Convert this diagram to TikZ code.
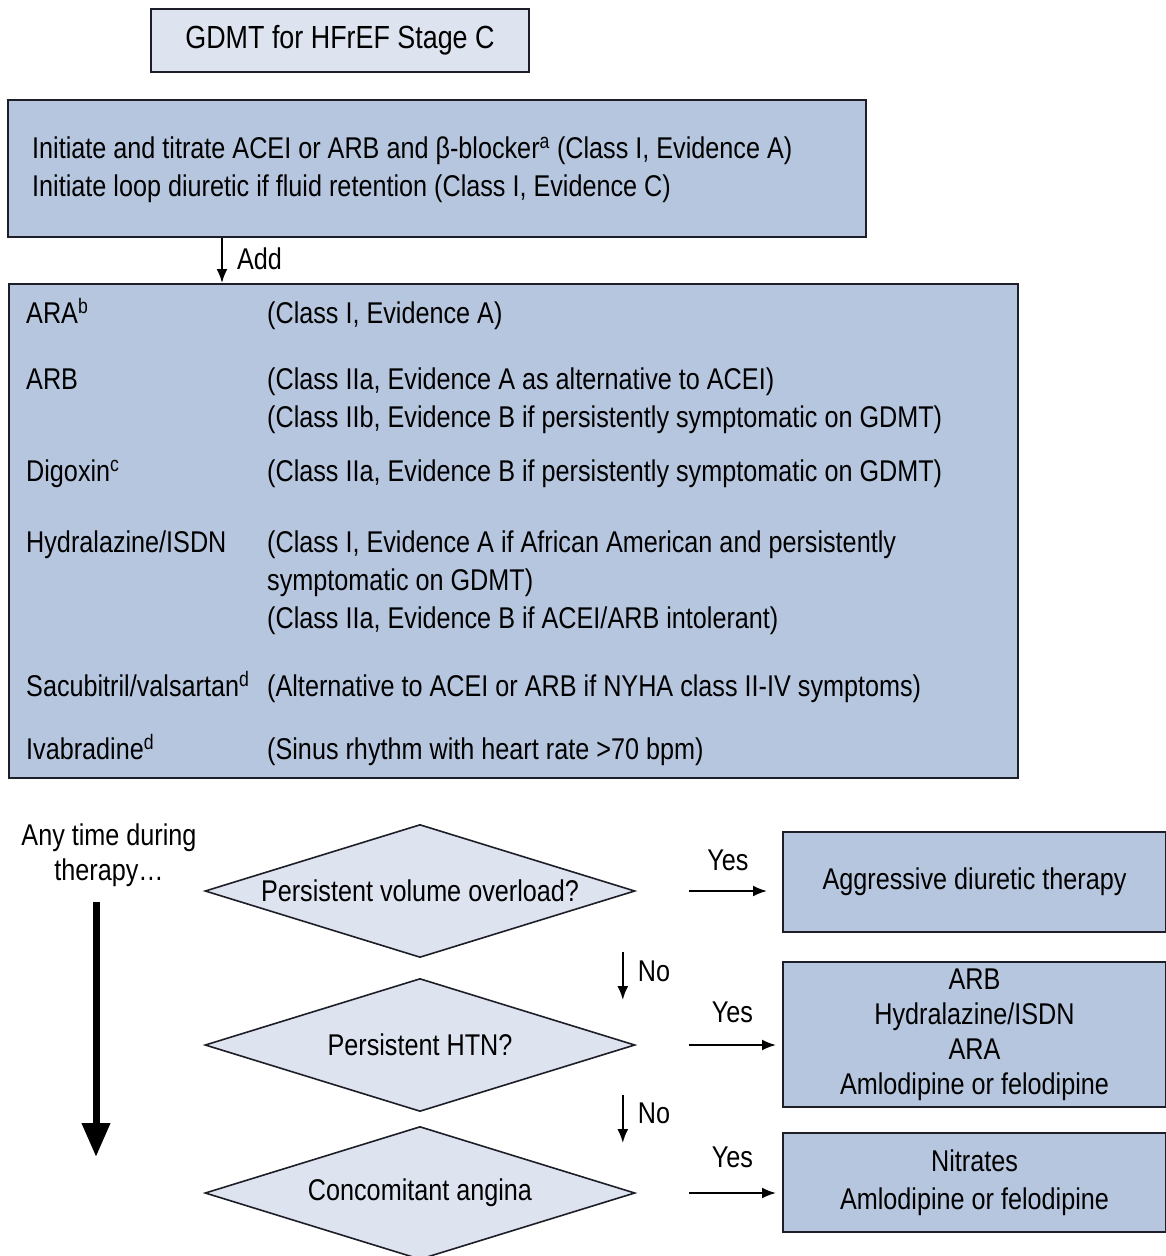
\documentclass[tikz,border=0pt]{standalone}
\usepackage{fontspec}
\setmainfont{Liberation Sans}[FakeStretch=0.84]
\usetikzlibrary{arrows.meta,shapes.geometric}
\definecolor{boxblue}{HTML}{B6C6DE}
\definecolor{paleblue}{HTML}{DDE3EF}
\definecolor{edgeline}{HTML}{1E1E28}
\begin{document}
\begin{tikzpicture}[x=1pt,y=-1pt,
  every node/.style={font=\fontsize{30}{38}\selectfont, text=black},
  panel/.style={rectangle, draw=edgeline, line width=2pt, fill=boxblue, inner sep=0pt},
  palebox/.style={rectangle, draw=edgeline, line width=2pt, fill=paleblue, inner sep=0pt},
  query/.style={diamond, aspect=3.23, draw=edgeline, line width=1.6pt, fill=paleblue, inner sep=0pt,
                minimum width=430pt, minimum height=133pt},
  cell/.style={anchor=base west, inner sep=0pt},
  tag/.style={inner sep=0pt},
  flow/.style={draw=black, line width=2pt, -{Latex[length=14pt,width=11pt]}},
  timeflow/.style={draw=black, line width=7pt, -{Triangle[length=34pt,width=27pt]}},
]
\useasboundingbox (0,0) rectangle (1165,1256);

% heading
\node[palebox, minimum width=378pt, minimum height=63pt, font=\fontsize{32}{38}\selectfont] (title) at (340,40.5) {GDMT for HFrEF Stage C};

% first-line therapy
\node[panel, anchor=north west, minimum width=858pt, minimum height=137pt] (initial) at (7,99) {};
\node[cell] (init1) at (32,158) {Initiate and titrate ACEI or ARB and β-blocker\textsuperscript{a} (Class I, Evidence A)};
\node[cell] (init2) at (32,196) {Initiate loop diuretic if fluid retention (Class I, Evidence C)};

% add-on therapies
\node[panel, anchor=north west, minimum width=1009pt, minimum height=494pt] (addons) at (8,283) {};
\coordinate (addx) at (222,0);
\draw[flow] (initial.south -| addx) -- (addons.north -| addx)
  node[tag, midway, anchor=west, xshift=14pt, yshift=2pt] (addlabel) {Add};

\node[cell] (ara) at (26,323) {ARA\textsuperscript{b}};
\node[cell] (araA) at (267,323) {(Class I, Evidence A)};
\node[cell] (arb) at (26,389) {ARB};
\node[cell] (arbA) at (267,389) {(Class IIa, Evidence A as alternative to ACEI)};
\node[cell] (arbB) at (267,427) {(Class IIb, Evidence B if persistently symptomatic on GDMT)};
\node[cell] (dig) at (26,481) {Digoxin\textsuperscript{c}};
\node[cell] (digA) at (267,481) {(Class IIa, Evidence B if persistently symptomatic on GDMT)};
\node[cell] (hyd) at (26,552) {Hydralazine/ISDN};
\node[cell] (hydA) at (267,552) {(Class I, Evidence A if African American and persistently};
\node[cell] (hydB) at (267,590) {symptomatic on GDMT)};
\node[cell] (hydC) at (267,628) {(Class IIa, Evidence B if ACEI/ARB intolerant)};
\node[cell] (sac) at (26,696) {Sacubitril/valsartan\textsuperscript{d}};
\node[cell] (sacA) at (267,696) {(Alternative to ACEI or ARB if NYHA class II-IV symptoms)};
\node[cell] (iva) at (26,759) {Ivabradine\textsuperscript{d}};
\node[cell] (ivaA) at (267,759) {(Sinus rhythm with heart rate >70 bpm)};

% ongoing assessment
\node[tag, align=center, font=\fontsize{30}{35}\selectfont] (anytime) at (109,855.5) {Any time during\\therapy\ldots};
\coordinate (timetop) at (96,902);
\coordinate (timeend) at (96,1157);
\draw[timeflow] (timetop) -- (timeend);

\node[query] (q1) at (420,891) {Persistent volume overload?};
\node[query] (q2) at (420,1045) {Persistent HTN?};
\node[query] (q3) at (420,1193) {Concomitant angina};

\node[panel, minimum width=383pt, minimum height=100pt] (diuretic) at (974.5,882) {Aggressive diuretic therapy};
\node[panel, minimum width=383pt, minimum height=145pt, align=center, font=\fontsize{30}{35}\selectfont] (hyper) at (974.5,1034.5)
  {ARB\\Hydralazine/ISDN\\ARA\\Amlodipine or felodipine};
\node[panel, minimum width=383pt, minimum height=99pt, align=center] (angina) at (974.5,1182.5)
  {Nitrates\\Amlodipine or felodipine};

\draw[flow] ([xshift=53pt]q1.east) -- ([xshift=-15pt]diuretic.west |- q1.east)
  node[tag, midway, yshift=31pt] (yes1) {Yes};
\draw[flow] ([xshift=53pt]q2.east) -- ([xshift=-6pt]hyper.west |- q2.east)
  node[tag, midway, yshift=33pt] (yes2) {Yes};
\draw[flow] ([xshift=53pt]q3.east) -- ([xshift=-6pt]angina.west |- q3.east)
  node[tag, midway, yshift=36pt] (yes3) {Yes};

\draw[flow] ([xshift=-13pt,yshift=-61pt]q1.east) -- ([xshift=-13pt,yshift=45pt]q2.east)
  node[tag, midway, anchor=west, xshift=14pt, yshift=5pt] (no1) {No};
\draw[flow] ([xshift=-13pt,yshift=-50pt]q2.east) -- ([xshift=-13pt,yshift=50pt]q3.east)
  node[tag, midway, anchor=west, xshift=14pt, yshift=6pt] (no2) {No};
\end{tikzpicture}
\end{document}
